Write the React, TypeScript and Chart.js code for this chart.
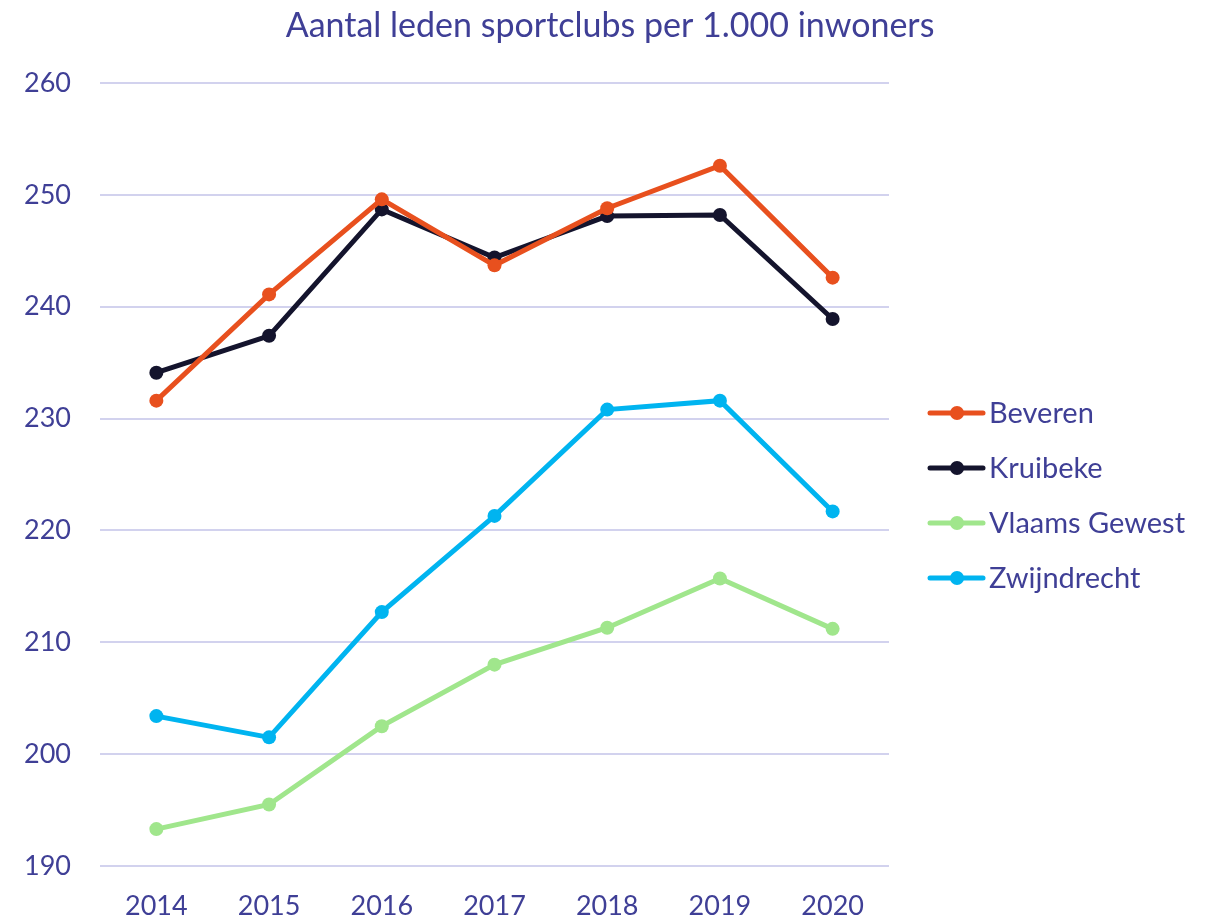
import React, { useEffect, useRef } from "react";
import { Chart, registerables } from "chart.js";

Chart.register(...registerables);

const years = ["2014", "2015", "2016", "2017", "2018", "2019", "2020"];
const beveren = [231.6, 241.1, 249.6, 243.7, 248.8, 252.6, 242.6];
const kruibeke = [234.1, 237.4, 248.7, 244.4, 248.1, 248.2, 238.9];
const vlaamsGewest = [193.3, 195.5, 202.5, 208.0, 211.3, 215.7, 211.2];
const zwijndrecht = [203.4, 201.5, 212.7, 221.3, 230.8, 231.6, 221.7];
const seriesNames = ["Beveren", "Kruibeke", "Vlaams Gewest", "Zwijndrecht"];
const seriesColors = ["#E8501E", "#14142D", "#A0E68C", "#00B4F0"];
const titleText = "Aantal leden sportclubs per 1.000 inwoners";

const TEXT = "#3F3F96";
const FONT = "Lato, 'Open Sans', sans-serif";

export default function App() {
  const ref = useRef<HTMLCanvasElement | null>(null);
  useEffect(() => {
    if (!ref.current) return;
    const values = [beveren, kruibeke, vlaamsGewest, zwijndrecht];
    const customPlugin = {
      id: "custom",
      afterDraw(chart: any) {
        const ctx = chart.ctx;
        ctx.save();
        ctx.fillStyle = TEXT;
        ctx.font = `34px ${FONT}`;
        ctx.textAlign = "center";
        ctx.textBaseline = "middle";
        ctx.fillText(titleText, 610, 26);
        // legend
        ctx.font = `29px ${FONT}`;
        ctx.textAlign = "left";
        seriesNames.forEach((n, i) => {
          const y = 413 + i * 55;
          ctx.strokeStyle = seriesColors[i];
          ctx.lineWidth = 5;
          ctx.lineCap = "round";
          ctx.beginPath();
          ctx.moveTo(930, y);
          ctx.lineTo(983, y);
          ctx.stroke();
          ctx.fillStyle = seriesColors[i];
          ctx.beginPath();
          ctx.arc(957, y, 7, 0, Math.PI * 2);
          ctx.fill();
          ctx.fillStyle = TEXT;
          ctx.fillText(n, 989, y + 1);
        });
        ctx.restore();
      },
    };
    const chart = new Chart(ref.current, {
      type: "line",
      data: {
        labels: years,
        datasets: seriesNames.map((n, i) => ({
          label: n,
          data: values[i],
          borderColor: seriesColors[i],
          backgroundColor: seriesColors[i],
          borderWidth: 5,
          pointRadius: 7,
          pointHoverRadius: 7,
          pointBorderWidth: 0,
          tension: 0,
        })),
      },
      options: {
        responsive: false,
        animation: false,
        layout: { padding: { top: 83, right: 325, bottom: 0, left: 0 } },
        plugins: { legend: { display: false }, title: { display: false }, tooltip: { enabled: false } },
        scales: {
          x: {
            offset: true,
            grid: { display: false, drawTicks: false },
            border: { display: false },
            ticks: { color: TEXT, font: { family: FONT, size: 27 }, padding: 24 },
            afterFit: (s: any) => { s.height = 54; },
          },
          y: {
            min: 190,
            max: 260,
            grid: { color: "#D2D2EE", lineWidth: 2, drawTicks: false },
            border: { display: false },
            ticks: { stepSize: 10, color: TEXT, font: { family: FONT, size: 27 }, padding: 29 },
            afterFit: (s: any) => { s.width = 100; },
          },
        },
      },
      plugins: [customPlugin],
    });
    return () => chart.destroy();
  }, []);
  return (
    <div style={{ position: "fixed", left: 0, top: 0, width: 1214, height: 920, background: "#fff" }}>
      <canvas ref={ref} width={1214} height={920} />
    </div>
  );
}
